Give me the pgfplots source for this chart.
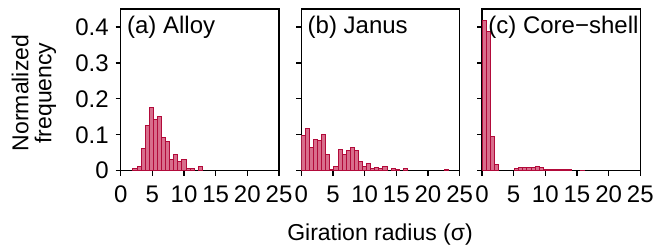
\documentclass[border=0pt]{standalone}
\usepackage{fontspec}
\setmainfont{Liberation Sans}
\usepackage{pgfplots}
\pgfplotsset{compat=1.18}
\definecolor{barfill}{RGB}{216,110,140}
\definecolor{baredge}{RGB}{178,10,58}
\pgfplotsset{hist/.style={
  scale only axis, width=79.15pt, height=80.85pt,
  xmin=0, xmax=25, ymin=0, ymax=0.45,
  xtick={0,5,10,15,20,25}, ytick={0,0.1,0.2,0.3,0.4},
  tick align=outside, tick pos=left, major tick length=2.5pt,
  axis line style={line width=0.6pt},
  every tick/.style={black, line width=0.6pt},
  ybar, bar width=0.645, bar shift=0pt,
  /pgf/number format/assume math mode=true,
  tick label style={font=\fontsize{12}{14}\selectfont},
  xticklabel style={yshift=-1.5pt},
  every axis plot post/.append style={fill=barfill, draw=baredge, line width=0.5pt},
}}
\begin{document}
\begin{tikzpicture}
\useasboundingbox (0,0) rectangle (329pt,124pt);
% panel a
\begin{axis}[hist, at={(60.35pt,38.65pt)}, anchor=south west]
\addplot coordinates {
(2.2575,0.0065) (2.9025,0.013) (3.5475,0.062) (4.1925,0.125) (4.8375,0.175)
(5.4825,0.143) (6.1275,0.150) (6.7725,0.093) (7.4175,0.081) (8.0625,0.031)
(8.7075,0.045) (9.3525,0.025) (9.9975,0.031) (10.6425,0.006) (11.2875,0.006)
(12.5775,0.013)};
\node[anchor=base west, inner sep=0, font=\fontsize{12}{14}\selectfont] at (rel axis cs:0.038,0.85) {(a) Alloy};
\end{axis}
% panel b
\begin{axis}[hist, at={(150.65pt,38.65pt)}, anchor=south west, yticklabels={}]
\addplot coordinates {
(0.3225,0.099) (0.9675,0.118) (1.6125,0.065) (2.2575,0.087) (2.9025,0.083)
(3.5475,0.102) (4.1925,0.044) (4.8375,0.004) (5.4825,0.013) (6.1275,0.059)
(6.7725,0.046) (7.4175,0.056) (8.0625,0.065) (8.7075,0.056) (9.3525,0.026)
(9.9975,0.013) (10.6425,0.021) (11.2875,0.005) (11.9325,0.010) (12.5775,0.007)
(13.2225,0.012) (14.5125,0.005) (15.1575,0.003) (16.4475,0.005) (22.8975,0.003)};
\node[anchor=base west, inner sep=0, font=\fontsize{12}{14}\selectfont] at (rel axis cs:0.038,0.85) {(b) Janus};
\end{axis}
% panel c
\begin{axis}[hist, at={(241pt,38.65pt)}, anchor=south west, yticklabels={}]
\addplot coordinates {
(0.3225,0.419) (0.9675,0.387) (1.6125,0.094) (2.2575,0.017)
(5.4825,0.005) (6.1275,0.009) (6.7725,0.009) (7.4175,0.009) (8.0625,0.009)
(8.7075,0.011) (9.3525,0.009) (9.9975,0.003) (10.6425,0.003) (11.2875,0.002)
(11.9325,0.003) (12.5775,0.002) (13.2225,0.003) (13.8675,0.002) (15.8025,0.001)};
\node[anchor=base west, inner sep=0, font=\fontsize{12}{14}\selectfont] at (rel axis cs:0.038,0.85) {(c) Core−shell};
\end{axis}
\node[rotate=90, align=center, font=\fontsize{11.5}{11.5}\selectfont] at (17pt,77.5pt) {Normalized\\frequency};
\node[font=\fontsize{11.5}{13}\selectfont] at (190pt,6.5pt) {Giration radius (σ)};
\end{tikzpicture}
\end{document}
